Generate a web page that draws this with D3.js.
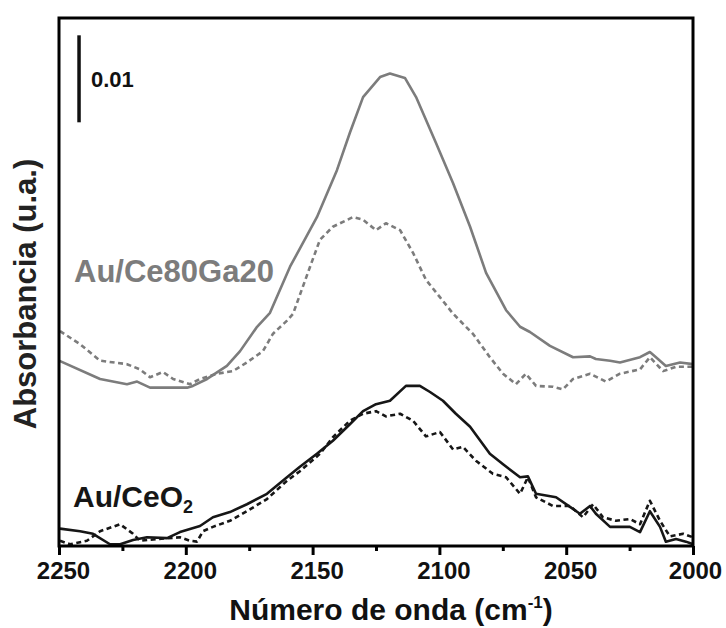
<!DOCTYPE html>
<html>
<head>
<meta charset="utf-8">
<script src="https://cdn.jsdelivr.net/npm/d3@7/dist/d3.min.js"></script>
<style>
  html, body { margin: 0; padding: 0; background: #fff; }
  svg { display: block; font-family: "Liberation Sans", Arial, Helvetica, sans-serif; }
</style>
</head>
<body>
<svg id="chart" width="726" height="628"></svg>
<script>
// Wavenumber (cm^-1) and absorbance in units of 0.001 (scale bar = 0.01)
const ceGaSolidX = [2250,2233.8,2223.2,2219.2,2214.1,2199.5,2197.2,2191.6,2183.8,2178.6,2171.9,2166.8,2158.9,2148.3,2140.4,2135.3,2130.1,2123.4,2119.5,2113.6,2109.2,2101.3,2094.6,2087.9,2081.6,2073.7,2068.2,2064.3,2056.4,2047.3,2040.6,2038.3,2032.7,2028.8,2020.9,2017.0,2014.6,2010.7,2005.1,2000];
const ceGaSolidY = [21.3,19.2,18.6,18.9,18.2,18.2,18.4,19.2,20.7,22.4,25.2,26.8,32.1,37.8,43.2,47.5,51.6,53.9,54.3,53.8,51.6,46.3,41.7,36.7,31.4,27.1,25.2,24.6,23.0,21.7,21.8,21.5,21.3,21.1,21.7,22.3,21.7,20.7,21.1,20.9];

const ceGaDashX = [2249.6,2241.7,2233.8,2223.2,2218.1,2214.1,2209.0,2205.0,2198.3,2194.4,2187.7,2181.4,2175.9,2169.6,2165.6,2160.1,2157.7,2151.0,2147.1,2142.0,2134.1,2130.1,2125.0,2121.1,2115.5,2110.4,2105.3,2099.8,2094.6,2086.8,2080.1,2074.9,2069.8,2065.9,2061.9,2055.2,2051.3,2047.3,2040.6,2034.3,2028.8,2020.9,2017.0,2011.8,2006.7,2000];
const ceGaDashY = [24.7,23.2,21.3,20.9,20.3,19.4,20.0,19.2,18.6,19.2,19.8,20.1,21.1,22.4,24.4,25.9,26.7,32.1,35.2,36.7,37.8,37.5,36.3,37.1,36.3,33.7,30.6,28.6,26.7,24.4,21.7,19.8,18.6,19.8,18.4,18.3,18.0,19.2,19.8,18.9,19.8,20.3,21.7,20.1,20.6,20.6];

const ceo2SolidX = [2249.6,2241.7,2236.6,2229.9,2225.9,2220.8,2215.3,2207.4,2202.3,2194.4,2189.3,2182.6,2175.9,2168.0,2160.1,2155.0,2148.3,2142.0,2135.3,2130.1,2125.0,2119.5,2113.2,2107.7,2103.7,2098.6,2093.5,2087.9,2080.1,2074.9,2068.2,2065.1,2061.9,2054.0,2048.5,2044.6,2040.6,2038.3,2032.7,2024.9,2020.9,2017.0,2013.0,2010.7,2006.7,2002.8,2000];
const ceo2SolidY = [2.0,1.7,1.4,0.2,0.2,0.7,1.0,0.9,1.6,2.3,3.3,3.9,4.8,6.0,7.9,9.1,10.6,12.1,14.0,15.5,16.3,16.7,18.4,18.4,17.7,16.7,15.2,13.7,10.6,9.4,7.9,8.0,6.0,5.6,4.5,3.7,4.6,3.7,2.2,2.2,1.6,4.0,2.2,0.5,0.8,0.5,0.2];

const ceo2DashX = [2249.6,2245.7,2239.0,2233.8,2225.9,2220.8,2218.1,2211.4,2202.3,2198.3,2195.6,2193.2,2189.3,2182.6,2175.9,2168.0,2160.1,2155.0,2147.1,2142.0,2135.3,2130.1,2125.0,2121.1,2115.5,2110.4,2105.3,2099.8,2094.6,2090.7,2085.6,2078.9,2073.7,2068.2,2065.1,2061.9,2055.2,2048.5,2043.4,2039.4,2035.5,2030.4,2024.9,2020.9,2017.0,2013.0,2009.1,2003.9,2000];
const ceo2DashY = [0.6,0.2,0.6,1.7,2.5,1.4,0.6,0.8,1.0,0.6,0.5,1.7,2.2,2.9,4.0,5.4,7.5,8.6,10.6,12.5,14.4,15.2,15.5,14.9,15.2,14.4,12.6,13.1,11.1,11.4,9.8,8.3,7.9,6.0,7.9,5.6,4.6,4.6,3.3,4.8,3.3,2.9,3.1,2.5,5.2,2.9,1.1,1.4,1.0];

const xTicks = [2250, 2200, 2150, 2100, 2050, 2000];
const xMinorTicks = [2225, 2175, 2125, 2075, 2025];
const seriesLabels = ["Au/Ce80Ga20", "Au/CeO"];
const scaleBarValue = 10; // 0.01 absorbance
const scaleBarLabel = "0.01";
const xTitle = "Número de onda (cm";
const yTitle = "Absorbancia (u.a.)";

const svg = d3.select("#chart");
const L = 59, R = 693, T = 18, B = 546;
const x = d3.scaleLinear().domain([2250, 2000]).range([L, R]);
const y = d3.scaleLinear().domain([0, (B - T) / 8.7]).range([B, T]);

const gray = "#7c7c7c", black = "#161616";

svg.append("defs").append("clipPath").attr("id", "clip")
  .append("rect").attr("x", L).attr("y", T).attr("width", R - L).attr("height", B - T);

const line = d3.line().x(d => x(d[0])).y(d => y(d[1]));
const series = [
  { xs: ceGaSolidX, ys: ceGaSolidY, color: gray, dash: null },
  { xs: ceGaDashX, ys: ceGaDashY, color: gray, dash: "5,3.5" },
  { xs: ceo2SolidX, ys: ceo2SolidY, color: black, dash: null },
  { xs: ceo2DashX, ys: ceo2DashY, color: black, dash: "5,3.5" }
];
const plot = svg.append("g").attr("clip-path", "url(#clip)");
series.forEach(s => {
  plot.append("path")
    .datum(s.xs.map((v, i) => [v, s.ys[i]]))
    .attr("d", line)
    .attr("fill", "none")
    .attr("stroke", s.color)
    .attr("stroke-width", 2.6)
    .attr("stroke-linejoin", "round")
    .attr("stroke-dasharray", s.dash);
});

// x axis
const xAxis = d3.axisBottom(x).tickValues(xTicks).tickFormat(d3.format("d"))
  .tickSize(9).tickPadding(7).tickSizeOuter(0);
const gx = svg.append("g").attr("transform", `translate(0,${B})`).call(xAxis);
gx.attr("font-family", '"Liberation Sans", Arial, sans-serif');
gx.select(".domain").remove();
gx.selectAll(".tick line").attr("stroke", "#000").attr("stroke-width", 3);
gx.selectAll(".tick text")
  .attr("font-size", 24).attr("font-weight", "bold").attr("fill", "#111")
  .attr("dx", (d, i) => i === xTicks.length - 1 ? 2 : 4);
const gxm = svg.append("g").attr("transform", `translate(0,${B})`)
  .call(d3.axisBottom(x).tickValues(xMinorTicks).tickSize(5).tickFormat(""));
gxm.select(".domain").remove();
gxm.selectAll(".tick line").attr("stroke", "#000").attr("stroke-width", 3);

// frame
svg.append("rect").attr("x", L).attr("y", T).attr("width", R - L).attr("height", B - T)
  .attr("fill", "none").attr("stroke", "#000").attr("stroke-width", 3);

// scale bar
const sbx = x(2242.1);
svg.append("line").attr("x1", sbx).attr("x2", sbx)
  .attr("y1", y(48.7)).attr("y2", y(48.7 + scaleBarValue))
  .attr("stroke", "#111").attr("stroke-width", 3.5);
svg.append("text").attr("x", 91).attr("y", 87).attr("font-size", 22).attr("font-weight", "bold")
  .attr("fill", "#111").text(scaleBarLabel);

// series labels
svg.append("text").attr("x", 74).attr("y", 282).attr("font-size", 31).attr("font-weight", "bold")
  .attr("fill", gray).text(seriesLabels[0]);
const t2 = svg.append("text").attr("x", 73).attr("y", 507).attr("font-size", 30).attr("font-weight", "bold")
  .attr("fill", black);
t2.append("tspan").text(seriesLabels[1]);
t2.append("tspan").attr("font-size", 18).attr("dy", 6).text("2");

// axis titles
const xt = svg.append("text").attr("x", 391).attr("y", 620).attr("text-anchor", "middle")
  .attr("font-size", 30).attr("font-weight", "bold").attr("fill", "#111");
xt.append("tspan").text(xTitle);
xt.append("tspan").attr("font-size", 17).attr("dy", -12).text("-1");
xt.append("tspan").attr("dy", 12).text(")");

svg.append("text").attr("transform", "translate(36,294) rotate(-90)").attr("text-anchor", "middle")
  .attr("font-size", 31).attr("font-weight", "bold").attr("fill", "#222").text(yTitle);
</script>
</body>
</html>
